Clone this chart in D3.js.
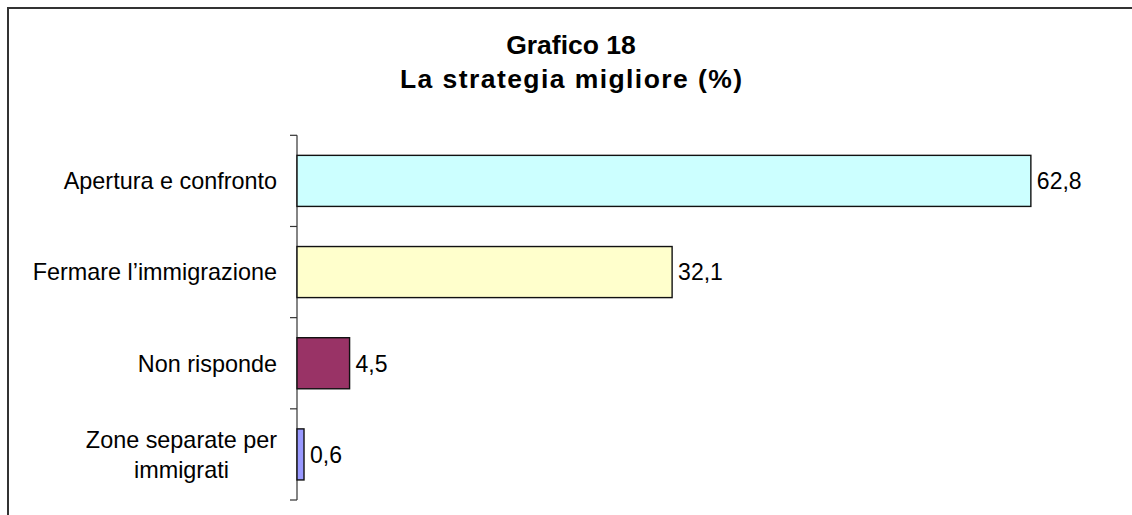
<!DOCTYPE html>
<html>
<head>
<meta charset="utf-8">
<script src="https://cdn.jsdelivr.net/npm/d3@7"></script>
<style>
  html, body { margin: 0; padding: 0; background: #fff; }
  svg { display: block; }
  text { font-family: "Liberation Sans", Arial, sans-serif; fill: #000; }
</style>
</head>
<body>
<svg id="chart" width="1132" height="515"></svg>
<script>
const titleLines = ["Grafico 18", "La strategia migliore (%)"];
const categories = ["Apertura e confronto", "Fermare l\u2019immigrazione", "Non risponde", "Zone separate per\nimmigrati"];
const values = [62.8, 32.1, 4.5, 0.6];
const valueLabels = ["62,8", "32,1", "4,5", "0,6"];
const colors = ["#CCFFFF", "#FFFFCC", "#993366", "#9999FF"];
const xDomain = [0, 70];

const svg = d3.select("#chart");
const W = 1132, H = 515;

// outer frame (extends past right/bottom edges)
svg.append("rect")
  .attr("x", 8).attr("y", 8)
  .attr("width", W + 20).attr("height", H + 20)
  .attr("fill", "#fff").attr("stroke", "#333").attr("stroke-width", 2);

// title
const title = svg.append("text")
  .attr("text-anchor", "middle")
  .style("font-weight", "bold")
  .style("font-size", "26.5px");
title.selectAll("tspan").data(titleLines).join("tspan")
  .attr("x", 571)
  .attr("y", (d, i) => 54 + i * 34)
  .text(d => d);
title.selectAll("tspan").filter((d, i) => i === 1)
  .attr("textLength", 342).attr("lengthAdjust", "spacing");

const x = d3.scaleLinear().domain(xDomain).range([297, 1115]);
const y = d3.scaleBand().domain(categories).range([135.3, 500])
  .paddingInner(0.44).paddingOuter(0.22);

// category boundary ticks + axis line
const bounds = categories.map(c => y(c) - y.step() * y.paddingInner() / 2);
bounds.push(y(categories[categories.length - 1]) + y.bandwidth() + y.step() * y.paddingInner() / 2);
svg.append("line")
  .attr("x1", 297).attr("x2", 297)
  .attr("y1", bounds[0]).attr("y2", bounds[bounds.length - 1])
  .attr("stroke", "#333").attr("stroke-width", 1.2);
svg.selectAll("line.tk").data(bounds).join("line").attr("class", "tk")
  .attr("x1", 290).attr("x2", 297)
  .attr("y1", d => d).attr("y2", d => d)
  .attr("stroke", "#333").attr("stroke-width", 1.2);

// bars
svg.selectAll("rect.bar").data(values).join("rect").attr("class", "bar")
  .attr("x", x(0))
  .attr("y", (d, i) => y(categories[i]))
  .attr("width", d => x(d) - x(0))
  .attr("height", y.bandwidth())
  .attr("fill", (d, i) => colors[i])
  .attr("stroke", "#111").attr("stroke-width", 1.4);

// value labels
svg.selectAll("text.val").data(values).join("text").attr("class", "val")
  .attr("x", d => x(d) + 6)
  .attr("y", (d, i) => y(categories[i]) + y.bandwidth() / 2)
  .attr("dy", "0.36em")
  .style("font-size", "23px")
  .text((d, i) => valueLabels[i]);

// category labels
const labelRight = 277;
categories.forEach((c, i) => {
  const lines = c.split("\n");
  const cy = y(c) + y.bandwidth() / 2;
  const lh = 30;
  const t = svg.append("text").style("font-size", "23.4px");
  const spans = t.selectAll("tspan").data(lines).join("tspan")
    .attr("y", (d, j) => cy + (j - (lines.length - 1) / 2) * lh)
    .attr("dy", "0.36em")
    .text(d => d);
  if (lines.length === 1) {
    t.attr("text-anchor", "end");
    spans.attr("x", labelRight);
  } else {
    let maxW = 0;
    spans.each(function () { maxW = Math.max(maxW, this.getComputedTextLength()); });
    t.attr("text-anchor", "middle");
    spans.attr("x", labelRight - maxW / 2);
  }
});
</script>
</body>
</html>
